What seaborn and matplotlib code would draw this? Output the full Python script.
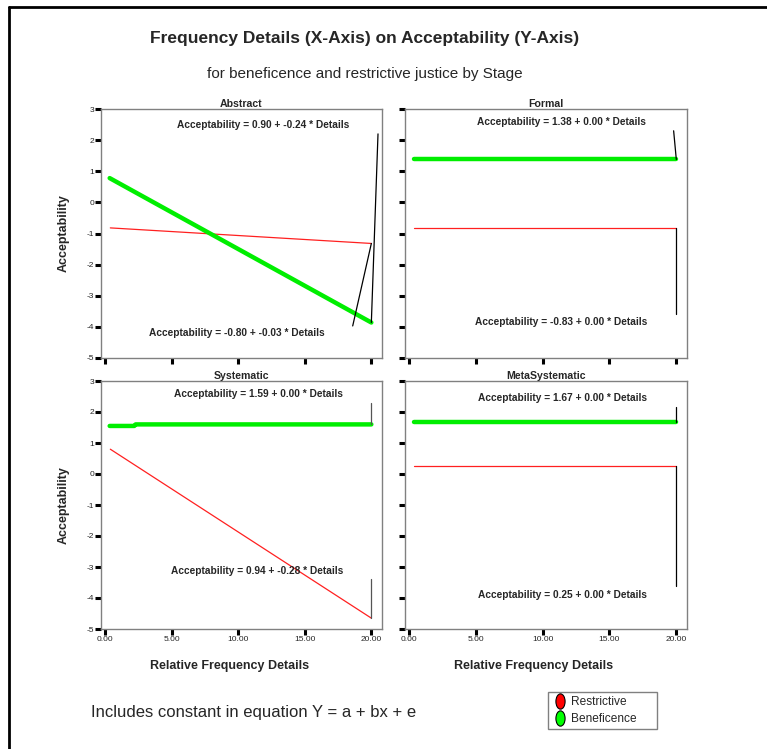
import pandas as pd
import seaborn as sns
import matplotlib.pyplot as plt
from matplotlib.lines import Line2D
from matplotlib.patches import Rectangle
from matplotlib.path import Path
from matplotlib.transforms import Affine2D

# values
stages = ["Abstract", "Formal", "Systematic", "MetaSystematic"]

ben_details = [[0.35, 20.0], [0.35, 20.0], [0.35, 2.2, 2.3, 20.0], [0.35, 20.0]]
ben_accept = [[0.78, -3.86], [1.38, 1.38], [1.55, 1.55, 1.60, 1.60], [1.67, 1.67]]
res_details = [[0.4, 20.0], [0.4, 20.0], [0.4, 20.0], [0.4, 20.0]]
res_accept = [[-0.82, -1.32], [-0.83, -0.83], [0.80, -4.65], [0.25, 0.25]]

eq_ben = ["0.90 + -0.24", "1.38 + 0.00", "1.59 + 0.00", "1.67 + 0.00"]
eq_res = ["-0.80 + -0.03", "-0.83 + 0.00", "0.94 + -0.28", "0.25 + 0.00"]

x_ticks = [0, 5, 10, 15, 20]
y_ticks = [-5, -4, -3, -2, -1, 0, 1, 2, 3]

rows = []
for i, st in enumerate(stages):
    for x, y in zip(ben_details[i], ben_accept[i]):
        rows.append((st, "Beneficence", x, y))
    for x, y in zip(res_details[i], res_accept[i]):
        rows.append((st, "Restrictive", x, y))
df = pd.DataFrame(rows, columns=["Stage", "Group", "Details", "Acceptability"])

sns.set_style("white")
plt.rcParams["font.family"] = ["Liberation Sans", "DejaVu Sans"]

W, H = 767, 749
fig = plt.figure(figsize=(W / 100, H / 100), dpi=100)

# panel boxes in pixels: left, top, width, height
boxes = [(101, 109, 281, 249), (405, 109, 282, 249),
         (101, 381, 281, 248), (405, 381, 282, 248)]
# label positions (data coords) and leader endpoints
top_lbl = [(11.85, 2.49), (11.4, 2.59), (11.55, 2.57), (11.5, 2.45)]
bot_lbl = [(9.9, -4.19), (11.4, -3.83), (11.4, -3.14), (11.5, -3.89)]
ben_lead = [(20.5, 2.2), (19.8, 2.3), (20.0, 2.3), (20.0, 2.15)]
res_lead = [(18.6, -3.97), (20.0, -3.6), (20.0, -3.4), (20.0, -3.6)]
lead_col = ["black", "black", "#555555", "black"]

for i, st in enumerate(stages):
    l, t, w, h = boxes[i]
    ax = fig.add_axes([l / W, 1 - (t + h) / H, w / W, h / H])
    sub = df[df["Stage"] == st]
    sns.lineplot(data=sub[sub["Group"] == "Restrictive"], x="Details", y="Acceptability",
                 color="#ff2020", linewidth=0.9, estimator=None, sort=False, ax=ax)
    sns.lineplot(data=sub[sub["Group"] == "Beneficence"], x="Details", y="Acceptability",
                 color="#00ee00", linewidth=3.2, estimator=None, sort=False, ax=ax)

    # leader lines from line end to the equation labels
    bx, by = ben_details[i][-1], ben_accept[i][-1]
    rx, ry = res_details[i][-1], res_accept[i][-1]
    ax.plot([bx, ben_lead[i][0]], [by, ben_lead[i][1]], color=lead_col[i], lw=0.9)
    ax.plot([rx, res_lead[i][0]], [ry, res_lead[i][1]], color=lead_col[i], lw=0.9)

    ax.text(*top_lbl[i], f"Acceptability = {eq_ben[i]} * Details", ha="center", va="center",
            fontsize=7.3, fontweight="bold")
    ax.text(*bot_lbl[i], f"Acceptability = {eq_res[i]} * Details", ha="center", va="center",
            fontsize=7.3, fontweight="bold")

    ax.set_xlim(-0.3, 20.8)
    ax.set_ylim(-5, 3)
    ax.set_xticks(x_ticks)
    ax.set_yticks(y_ticks)
    ax.tick_params(direction="out", length=4, width=2.2, color="black",
                   labelsize=6, pad=1, left=True, bottom=True)
    for sp in ax.spines.values():
        sp.set_color("#808080")
        sp.set_linewidth(1)
    ax.set_title(st, fontsize=7.6, fontweight="bold", pad=1.5)

    if i in (2, 3):
        ax.set_xticklabels([f"{v:.2f}" for v in x_ticks])
        ax.set_xlabel("Relative Frequency Details", fontsize=9, fontweight="bold")
        ax.xaxis.set_label_coords((w / 2 - 12) / w, -0.125)
    else:
        ax.set_xticklabels([])
        ax.set_xlabel("")
    if i in (0, 2):
        ax.set_yticklabels([str(v) for v in y_ticks])
        ax.set_ylabel("Acceptability", fontsize=9, fontweight="bold", labelpad=12)
    else:
        ax.set_yticklabels([])
        ax.set_ylabel("")

fig.text(365 / W, 1 - 38 / H, "Frequency Details (X-Axis) on Acceptability (Y-Axis)",
         ha="center", va="center", fontsize=12.5, fontweight="bold")
fig.text(365 / W, 1 - 74 / H, "for beneficence and restrictive justice by Stage",
         ha="center", va="center", fontsize=11)
fig.text(91 / W, 1 - 713 / H, "Includes constant in equation Y = a + bx + e",
         ha="left", va="center", fontsize=12)

# outer frame (left and top)
fig.add_artist(Line2D([9 / W, 9 / W], [0, 1 - 7 / H], color="black", lw=2))
fig.add_artist(Line2D([9 / W, 1], [1 - 7 / H, 1 - 7 / H], color="black", lw=2))

# legend box
fig.add_artist(Rectangle((548 / W, 1 - 729 / H), 109 / W, 37 / H, transform=fig.transFigure,
                         facecolor="white", edgecolor="#808080", lw=1))
capsule = Affine2D().scale(0.6, 1.0).transform_path(Path.unit_circle())
handles = [
    Line2D([], [], marker=capsule, linestyle="none", markersize=11,
           markerfacecolor="#ff0000", markeredgecolor="black", markeredgewidth=0.8),
    Line2D([], [], marker=capsule, linestyle="none", markersize=11,
           markerfacecolor="#00ff00", markeredgecolor="black", markeredgewidth=0.8),
]
fig.legend(handles, ["Restrictive", "Beneficence"], loc="upper left",
           bbox_to_anchor=(554 / W, 1 - 696 / H), fontsize=8.6, frameon=False,
           handletextpad=0.45, handlelength=1.0, borderpad=0, labelspacing=0.45,
           borderaxespad=0)

fig.savefig("out.png", dpi=100)
